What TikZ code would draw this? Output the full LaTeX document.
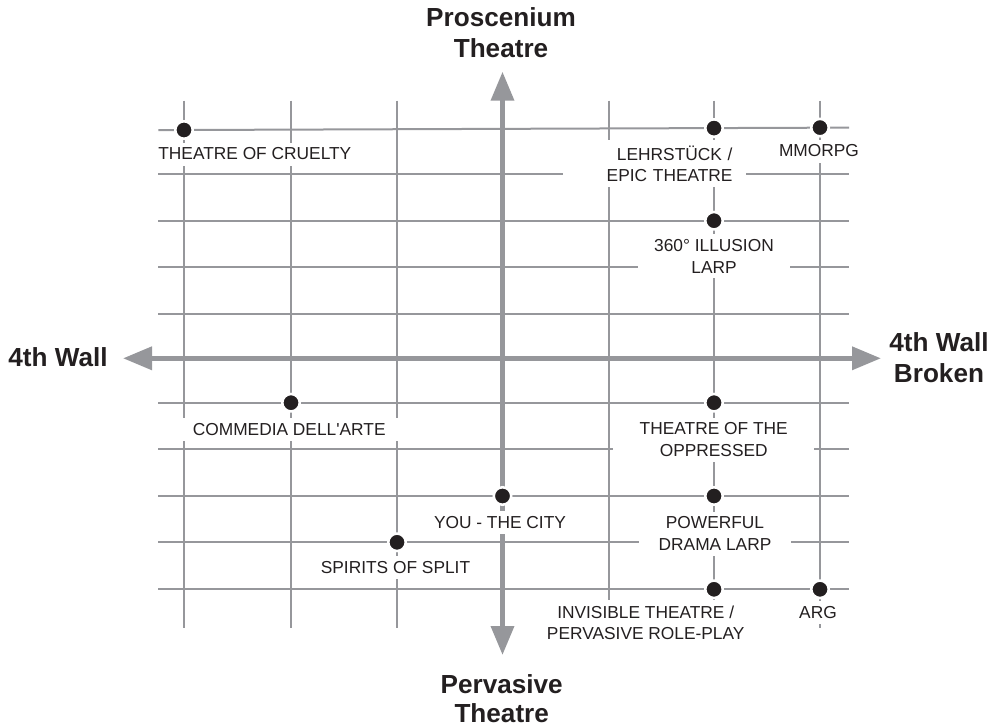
\documentclass[tikz,border=0pt]{standalone}
\usepackage{fontspec}
\setmainfont{Liberation Sans}
\usepackage{xcolor}
\usetikzlibrary{arrows.meta,calc}

\definecolor{gridgrey}{RGB}{150,151,155}
\definecolor{inkblack}{RGB}{35,31,32}

\begin{document}
\begin{tikzpicture}[x=0.75pt,y=0.75pt,yscale=-1,xscale=1,
    grid/.style={draw=gridgrey,line width=1.5pt},
    axis/.style={draw=gridgrey,line width=3.75pt,{Triangle[length=21.75pt,width=16.9pt]}-{Triangle[length=21.75pt,width=16.9pt]}},
    dot/.style={circle,fill=inkblack,draw=white,line width=1.9pt,minimum size=13.1pt,inner sep=0pt},
    lbl/.style={fill=white,text=inkblack,inner xsep=9.75pt,inner ysep=4pt,align=center,anchor=base,font=\fontsize{13}{16}\selectfont},
    pole/.style={text=inkblack,align=center,anchor=base,inner sep=0pt,font=\fontsize{19.6}{23.5}\selectfont\bfseries}]
    \useasboundingbox (0,0) rectangle (992,727);

    % Grid: vertical lines
    \draw [grid] (184,100.7) -- (184,628.3) ;
    \draw [grid] (291,100.7) -- (291,628.3) ;
    \draw [grid] (397,100.7) -- (397,628.3) ;
    \draw [grid] (608.5,100.7) -- (608.5,628.3) ;
    \draw [grid] (714,100.7) -- (714,628.3) ;
    \draw [grid] (820,100.7) -- (820,628.3) ;
    % Grid: horizontal lines
    \draw [grid] (158.3,130.1) -- (849,127.6) ;
    \draw [grid] (158.3,174) -- (849,174) ;
    \draw [grid] (158.3,220.7) -- (849,220.7) ;
    \draw [grid] (158.3,267.3) -- (849,267.3) ;
    \draw [grid] (158.3,314) -- (849,314) ;
    \draw [grid] (158.3,402.7) -- (849,402.7) ;
    \draw [grid] (158.3,449.3) -- (849,449.3) ;
    \draw [grid] (158.3,496) -- (849,496) ;
    \draw [grid] (158.3,542.3) -- (849,542.3) ;
    \draw [grid] (158.3,589.3) -- (849,589.3) ;

    % Axes
    \coordinate (west) at (123,358.3) ;
    \coordinate (east) at (881,358.3) ;
    \coordinate (north) at (502.5,71.7) ;
    \coordinate (south) at (502.5,655) ;
    \draw [axis] (west) -- (east) ;
    \draw [axis] (north) -- (south) ;

    % Axis titles (base = last line)
    \node [pole] (proscenium) at (501,58) {Proscenium\\Theatre};
    \node [pole,font=\fontsize{19.6}{21.5}\selectfont\bfseries] (pervasive) at (501.7,722) {Pervasive\\Theatre};
    \node [pole] (wall) at (58,366.7) {4th Wall};
    \node [pole] (broken) at (939,382.5) {4th Wall\\Broken};

    % Point positions
    \coordinate (cruelty) at (184,130) ;
    \coordinate (lehr) at (714,128.1) ;
    \coordinate (mmorpg) at (820,127.6) ;
    \coordinate (illusion) at (714,220.7) ;
    \coordinate (commedia) at (291,402.7) ;
    \coordinate (oppressed) at (714,402.7) ;
    \coordinate (city) at (502.5,496) ;
    \coordinate (powerful) at (714,496) ;
    \coordinate (spirits) at (397,542.3) ;
    \coordinate (invisible) at (714,589.3) ;
    \coordinate (arg) at (820,589.3) ;

    % Text Node
    \node [lbl] (cruelty-l) at ($(cruelty)+(70.8,30)$) {THEATRE OF CRUELTY};
    \node [lbl,align=right,text width=117.5pt] (lehr-l) at ($(lehr)+(-59.8,32)$) {LEHRSTÜCK /\\EPIC THEATRE};
    \node [lbl] (mmorpg-l) at ($(mmorpg)+(-1,29.4)$) {MMORPG};
    \node [lbl,minimum width=114pt] (illusion-l) at ($(illusion)+(0,52.3)$) {360° ILLUSION\\LARP};
    \node [lbl] (commedia-l) at ($(commedia)+(-1.8,32.3)$) {COMMEDIA DELL\textquotesingle ARTE};
    \node [lbl,minimum width=150.5pt] (oppressed-l) at ($(oppressed)+(-0.3,53.6)$) {THEATRE OF THE\\OPPRESSED};
    \node [lbl] (city-l) at ($(city)+(-2.5,32)$) {YOU - THE CITY};
    \node [lbl,minimum width=113.5pt] (powerful-l) at ($(powerful)+(1,54.3)$) {POWERFUL\\DRAMA LARP};
    \node [lbl] (spirits-l) at ($(spirits)+(-1.5,31)$) {SPIRITS OF SPLIT};
    \node [lbl] (invisible-l) at ($(invisible)+(-68.3,50.3)$) {INVISIBLE THEATRE /\\PERVASIVE ROLE-PLAY};
    \node [lbl] (arg-l) at ($(arg)+(-2,28.7)$) {ARG};

    % Points
    \foreach \p in {cruelty,lehr,mmorpg,illusion,commedia,oppressed,city,powerful,spirits,invisible,arg}
        \node [dot] (\p-dot) at (\p) {};

\end{tikzpicture}
\end{document}
